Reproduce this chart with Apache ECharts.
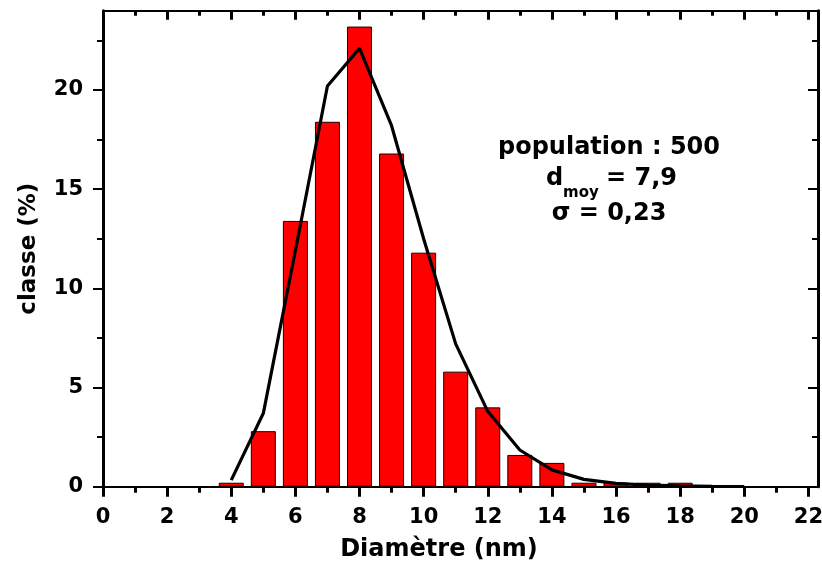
<!DOCTYPE html>
<html>
<head>
<meta charset="utf-8">
<script src="https://cdn.jsdelivr.net/npm/echarts@6/dist/echarts.min.js"></script>
<style>
  html, body { margin: 0; padding: 0; background: #ffffff; }
  #chart { width: 822px; height: 562px; }
</style>
</head>
<body>
<div id="chart"></div>
<script>
// Size distribution: bar centres (nm) and share of the population (%)
const diameters = [4, 5, 6, 7, 8, 9, 10, 11, 12, 13, 14, 15, 16, 17, 18];
const classPercent = [0.2, 2.8, 13.4, 18.4, 23.2, 16.8, 11.8, 5.8, 4.0, 1.6, 1.2, 0.2, 0.2, 0.2, 0.2];

// Fitted distribution curve
const fitDiameters = [4, 5, 6, 7, 8, 9, 10, 11, 12, 13, 14, 15, 16, 17, 18, 19, 20];
const fitPercent = [0.33, 3.7, 11.9, 20.2, 22.1, 18.2, 12.5, 7.2, 3.8, 1.85, 0.85, 0.37, 0.17, 0.08, 0.04, 0.02, 0.01];

// Axis ticks
const xMajorTicks = [0, 2, 4, 6, 8, 10, 12, 14, 16, 18, 20, 22];
const xMinorTicks = [1, 3, 5, 7, 9, 11, 13, 15, 17, 19, 21];
const yMajorTicks = [0, 5, 10, 15, 20];
const yMinorTicks = [2.5, 7.5, 12.5, 17.5, 22.5];

// Annotation lines
const populationText = 'population : 500';
const meanSymbol = 'd';
const meanSubscript = 'moy';
const meanValueText = '= 7,9';
const sigmaText = '\u03c3 = 0,23';

const FONT = '"DejaVu Sans", "Liberation Sans", Arial, sans-serif';
const X_MIN = 0, X_MAX = 22.3, Y_MIN = 0, Y_MAX = 24;

const labelStyle = { fontFamily: FONT, fontWeight: 'bold', fontSize: 21, color: '#000' };

function xAxisDef(position, ticks, length, inside, withLine, extra) {
  return Object.assign({
    type: 'value', position: position, min: X_MIN, max: X_MAX, interval: 1,
    axisLine: { show: withLine, onZero: false, lineStyle: { color: '#000', width: 2 } },
    axisTick: { show: true, inside: inside, length: length, customValues: ticks,
                lineStyle: { color: '#000', width: 3 } },
    axisLabel: { show: false },
    splitLine: { show: false }
  }, extra || {});
}

function yAxisDef(position, ticks, length, inside, withLine, extra) {
  return Object.assign({
    type: 'value', position: position, min: Y_MIN, max: Y_MAX, interval: 2.5,
    axisLine: { show: withLine, onZero: false, lineStyle: { color: '#000', width: 3 } },
    axisTick: { show: true, inside: inside, length: length, customValues: ticks,
                lineStyle: { color: '#000', width: 2 } },
    axisLabel: { show: false },
    splitLine: { show: false }
  }, extra || {});
}

const chart = echarts.init(document.getElementById('chart'), null, { renderer: 'canvas' });

chart.setOption({
  animation: false,
  backgroundColor: '#ffffff',
  grid: { left: 103, right: 4, top: 10.7, height: 476, containLabel: false, outerBoundsMode: 'none' },
  xAxis: [
    xAxisDef('bottom', xMajorTicks, 10, false, true, {
      axisLabel: Object.assign({ show: true, margin: 20, customValues: xMajorTicks }, labelStyle),
      name: 'Diamètre (nm)',
      nameLocation: 'middle',
      nameGap: 51,
      nameTextStyle: { fontFamily: FONT, fontWeight: 'bold', fontSize: 24, color: '#000',
                       padding: [0, 43, 0, 0] }
    }),
    xAxisDef('bottom', xMinorTicks, 6, false, false),
    xAxisDef('top', xMajorTicks, 9, true, true),
    xAxisDef('top', xMinorTicks, 5, true, false)
  ],
  yAxis: [
    yAxisDef('left', yMajorTicks, 10, false, true, {
      axisLabel: Object.assign({ show: true, margin: 20, customValues: yMajorTicks }, labelStyle),
      name: 'classe (%)',
      nameLocation: 'middle',
      nameGap: 62,
      nameTextStyle: { fontFamily: FONT, fontWeight: 'bold', fontSize: 23, color: '#000' }
    }),
    yAxisDef('left', yMinorTicks, 6, false, false),
    yAxisDef('right', yMajorTicks, 10, true, true),
    yAxisDef('right', yMinorTicks, 6, true, false)
  ],
  series: [
    {
      type: 'bar',
      xAxisIndex: 0,
      yAxisIndex: 0,
      barWidth: 25,
      data: diameters.map((d, i) => [d, classPercent[i]]),
      itemStyle: { color: '#ff0000', borderColor: '#1a0000', borderWidth: 1 },
      z: 2
    },
    {
      type: 'line',
      xAxisIndex: 0,
      yAxisIndex: 0,
      data: fitDiameters.map((d, i) => [d, fitPercent[i]]),
      symbol: 'none',
      smooth: false,
      lineStyle: { color: '#000', width: 3.2 },
      z: 3
    }
  ],
  graphic: [
    { type: 'text', x: 609, y: 148,
      style: { text: populationText, font: 'bold 24px ' + FONT, fill: '#000',
               align: 'center', verticalAlign: 'middle' } },
    { type: 'text', x: 546, y: 179,
      style: { text: meanSymbol, font: 'bold 24px ' + FONT, fill: '#000',
               align: 'left', verticalAlign: 'middle' } },
    { type: 'text', x: 563, y: 193.5,
      style: { text: meanSubscript, font: 'bold 15px ' + FONT, fill: '#000',
               align: 'left', verticalAlign: 'middle' } },
    { type: 'text', x: 606, y: 179,
      style: { text: meanValueText, font: 'bold 24px ' + FONT, fill: '#000',
               align: 'left', verticalAlign: 'middle' } },
    { type: 'text', x: 609, y: 214,
      style: { text: sigmaText, font: 'bold 24px ' + FONT, fill: '#000',
               align: 'center', verticalAlign: 'middle' } }
  ]
});
</script>
</body>
</html>
